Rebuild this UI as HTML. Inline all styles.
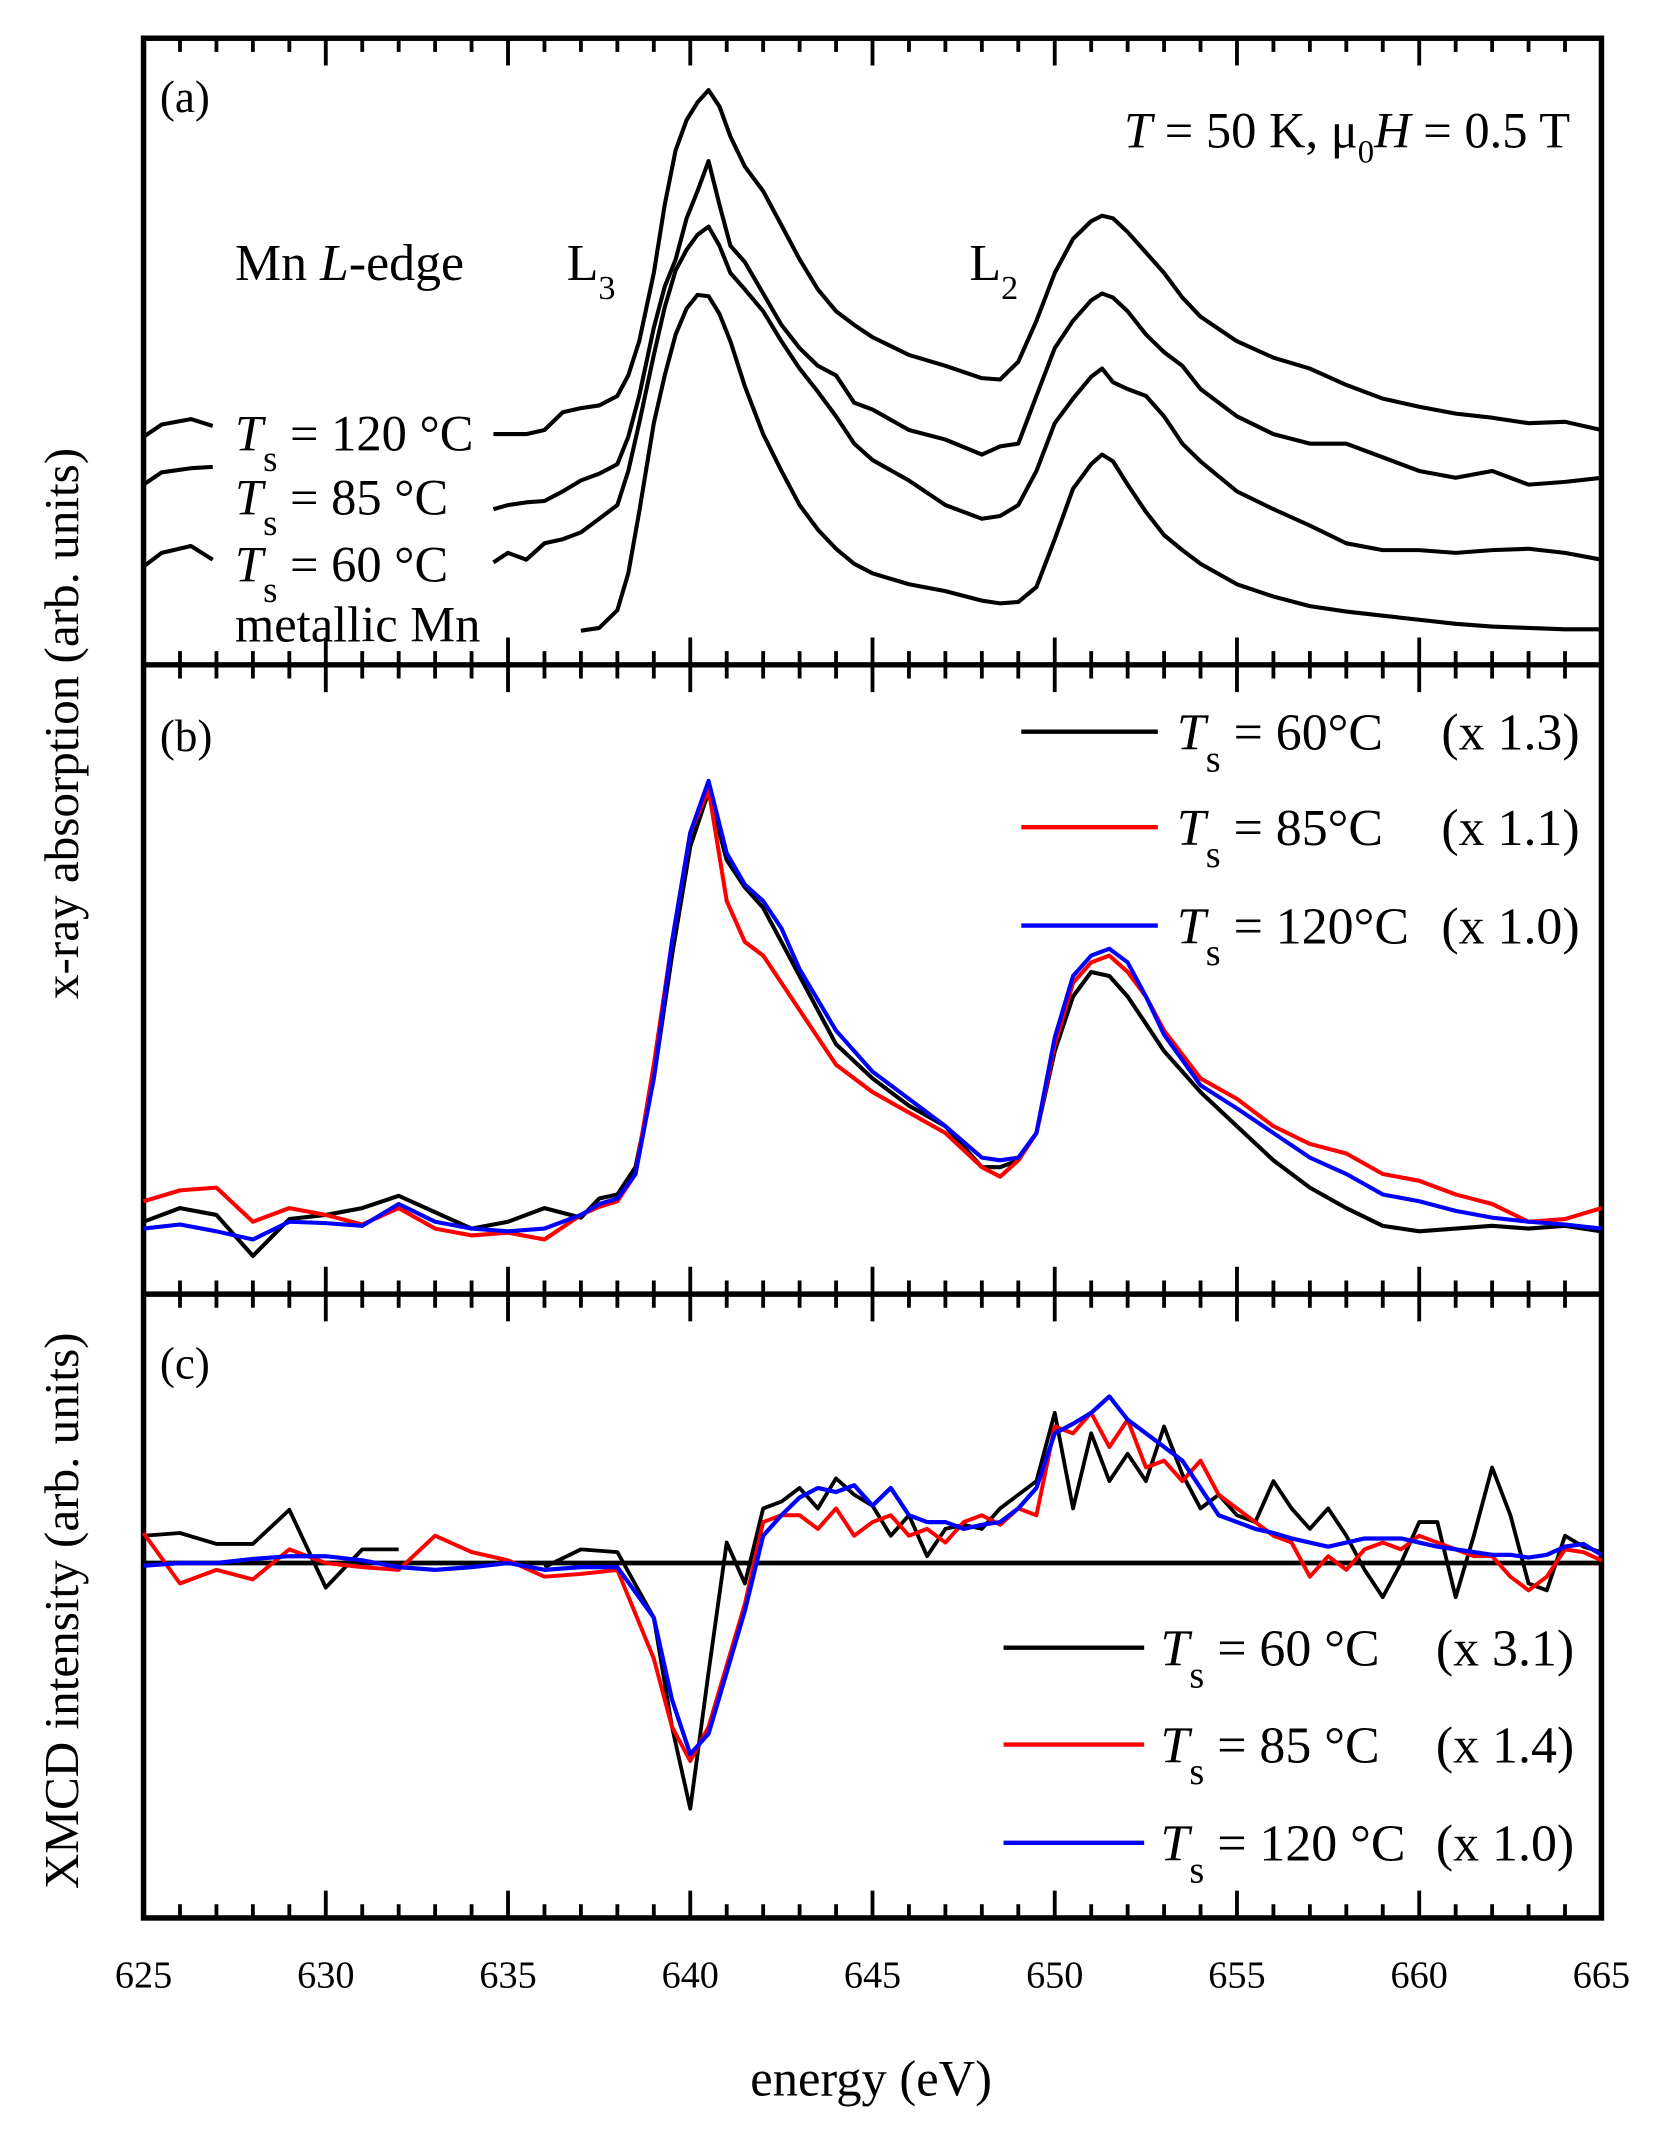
<!DOCTYPE html>
<html><head><meta charset="utf-8"><style>
html,body{margin:0;padding:0;background:#fff}
svg{display:block}
text{font-family:"Liberation Serif",serif;fill:#000}
</style></head><body>
<svg id="fig" width="1659" height="2135" viewBox="0 0 1215 1564" xmlns="http://www.w3.org/2000/svg">
<g id="frames"></g>
<g id="curves"></g>
<g id="labels">
<text x="117" y="82" font-size="33">(a)</text>
<text x="117" y="550" font-size="33">(b)</text>
<text x="117" y="1010" font-size="33">(c)</text>
<text x="1150" y="108" font-size="37" text-anchor="end"><tspan font-style="italic">T</tspan> = 50 K, μ<tspan font-size="24" dy="11">0</tspan><tspan dy="-11" font-style="italic">H</tspan> = 0.5 T</text>
<text x="172" y="205" font-size="38">Mn <tspan font-style="italic">L</tspan>-edge</text>
<text x="415" y="205" font-size="38">L<tspan font-size="25" dy="14">3</tspan></text>
<text x="710" y="205" font-size="38">L<tspan font-size="25" dy="14">2</tspan></text>
<text x="172" y="330" font-size="37"><tspan font-style="italic">T</tspan><tspan font-size="27" dy="15">s</tspan><tspan dy="-15"> = 120 °C</tspan></text>
<text x="172" y="377" font-size="37"><tspan font-style="italic">T</tspan><tspan font-size="27" dy="15">s</tspan><tspan dy="-15"> = 85 °C</tspan></text>
<text x="172" y="426" font-size="37"><tspan font-style="italic">T</tspan><tspan font-size="27" dy="15">s</tspan><tspan dy="-15"> = 60 °C</tspan></text>
<text x="172" y="470" font-size="37">metallic Mn</text>
<text transform="translate(57,530) rotate(-90)" font-size="36" text-anchor="middle">x-ray absorption (arb. units)</text>
<text transform="translate(57,1180) rotate(-90)" font-size="36" text-anchor="middle">XMCD intensity (arb. units)</text>
<text x="638" y="1535" font-size="37" text-anchor="middle">energy (eV)</text>
</g>
<g id="legendB"></g>
<g id="legendC"></g>
</svg>
<script>
// ---------- data ----------
const energyA = [625,625.5,626.3,626.9,630,634.6,635,635.5,636,636.5,637,637.5,638,638.3,638.6,639,639.3,639.6,639.9,640.2,640.5,640.8,641.1,641.5,642,642.5,643,643.5,644,644.5,645,646,647,648,648.5,649,649.5,650,650.5,651,651.3,651.6,652,652.5,653,653.5,654,655,656,657,658,659,660,661,662,663,664,665];
const xasA120 = [167,176,180,175,null,169,169,169,172,185,188,190,197,212,237,287,337,377,399,412,421,409,387,365,347,322,297,275,259,249,240,227,219,210,209,222,252,287,312,325,329,327,317,302,287,269,255,237,225,217,205,195,189,184,181,177,178,172];
const xasA85 = [132,141,144,145,null,114,117,119,120,127,135,140,147,167,197,247,277,297,327,347,369,337,307,295,272,249,232,219,212,192,187,172,165,154,160,162,197,232,252,267,272,269,259,242,229,219,202,182,169,162,162,152,142,137,142,132,134,137];
const xasA60 = [72,82,87,77,null,75,82,77,89,92,97,107,117,142,177,227,262,289,304,315,321,307,287,275,259,237,217,200,182,162,150,135,117,107,109,117,142,177,195,211,217,207,202,197,182,162,149,127,114,102,89,84,84,82,84,85,82,77];
const xasAMetal = [null,null,null,null,null,null,null,null,null,null,25,27,40,67,112,177,212,242,261,271,270,257,237,204,169,142,117,99,85,74,67,59,54,47,45,46,57,92,129,147,154,149,132,112,95,84,74,59,50,43,39,36,33,30,28,27,26,26];

const energyB = [625,626,627,628,629,630,631,632,633,634,635,636,637,637.5,638,638.5,639,639.5,640,640.5,641,641.5,642,642.5,643,644,645,646,647,648,648.5,649,649.5,650,650.5,651,651.5,652,652.5,653,654,655,656,657,658,659,660,661,662,663,664,665];
const xasB60 = [53,63,58,28,55,58,63,72,60,48,53,63,56,70,73,93,158,248,328,368,318,298,283,258,233,183,158,138,123,93,93,98,118,178,218,236,233,218,198,178,148,123,98,78,63,50,46,48,50,48,50,46];
const xasB85 = [68,76,78,53,63,58,51,63,48,43,45,40,58,64,68,88,168,258,338,370,288,258,248,228,208,168,148,133,118,93,86,98,118,183,228,243,248,236,218,193,158,143,123,110,103,88,83,73,66,53,55,63];
const xasB120 = [48,51,46,40,53,52,50,66,53,48,46,48,58,66,70,88,158,258,338,376,323,300,288,268,238,193,163,143,123,100,98,100,118,188,233,248,253,243,218,190,153,136,118,100,88,73,68,61,56,53,51,48];

const energyC = [625,626,627,628,629,630,631,632,633,634,635,636,637,638,639,639.5,640,640.5,641,641.5,642,642.5,643,643.5,644,644.5,645,645.5,646,646.5,647,647.5,648,648.5,649,649.5,650,650.5,651,651.5,652,652.5,653,653.5,654,654.5,655,655.5,656,656.5,657,657.5,658,658.5,659,659.5,660,660.5,661,661.5,662,662.5,663,663.5,664,664.5,665];
const xmcd60 = [20,22,14,14,39,-18,10,10,null,null,null,-3,10,8,-40,-120,-180,-80,15,-15,40,45,55,40,62,50,42,20,35,5,25,28,25,40,50,60,110,40,95,60,80,60,100,65,40,50,35,30,60,40,25,40,20,-5,-25,0,30,30,-25,20,70,35,-15,-20,20,12,8];
const xmcd85 = [22,-15,-5,-12,10,0,-3,-5,20,8,2,-10,-8,-5,-70,-120,-145,-120,-75,-30,30,35,35,25,40,20,30,35,20,25,15,30,35,28,40,35,100,95,110,85,105,70,75,60,75,50,40,30,20,15,-10,5,-5,10,15,10,20,15,10,5,5,-10,-20,-10,10,8,2];
const xmcd120 = [-2,0,0,3,5,5,2,-3,-5,-3,0,-5,-3,-3,-40,-100,-140,-125,-80,-35,20,35,48,55,52,57,42,55,35,30,30,25,28,30,40,55,95,102,110,122,105,95,85,75,55,35,30,25,22,18,15,12,15,18,18,18,15,12,10,8,6,6,4,6,12,14,6];

const xTickLabels = ["625","630","635","640","645","650","655","660","665"];

// ---------- axes ----------
const X0=105, X1=1173, Emin=625, Emax=665;
const xs = e => X0 + (e-Emin)*(X1-X0)/(Emax-Emin);
const yA = v => 487 - v;
const yB = v => 948 - v;
const yC = v => 1145 - v;
const NS="http://www.w3.org/2000/svg";
function mk(tag, parent){const el=document.createElementNS(NS,tag);parent.appendChild(el);return el;}

const frames=document.getElementById('frames');
const fr=mk('rect',frames);


fr.setAttribute('x',X0);fr.setAttribute('y',28);fr.setAttribute('width',X1-X0);fr.setAttribute('height',1377);
fr.setAttribute('fill','none');fr.setAttribute('stroke','#000');fr.setAttribute('stroke-width','4');
[487,948].forEach((y,i)=>{
  const l=mk('line',frames);
  
  
  l.setAttribute('x1',X0);l.setAttribute('x2',X1);l.setAttribute('y1',y);l.setAttribute('y2',y);
  l.setAttribute('stroke','#000');l.setAttribute('stroke-width','4');
});
const zl=mk('line',frames);


zl.setAttribute('x1',X0);zl.setAttribute('x2',X1);zl.setAttribute('y1',yC(0));zl.setAttribute('y2',yC(0));
zl.setAttribute('stroke','#000');zl.setAttribute('stroke-width','3.5');

const tickRows=[[28,1],[487,-1],[487,1],[948,-1],[948,1],[1405,-1]];
let td='';
for(let e=626;e<665;e++){
  const major=(e%5===0);const L=major?20:10;const x=xs(e);
  tickRows.forEach(([y,d])=>{td+=`M${x},${y}V${y+d*L}`;});
}
const tk=mk('path',frames);


tk.setAttribute('d',td);tk.setAttribute('stroke','#000');tk.setAttribute('stroke-width','2.8');
xTickLabels.forEach(s=>{
  const t=mk('text',frames);
  
  
  t.setAttribute('x',xs(+s));t.setAttribute('y',1456);t.setAttribute('font-size','28');t.setAttribute('text-anchor','middle');
  t.textContent=s;
});

const curves=document.getElementById('curves');
function drawCurve(E,V,ys,color,name,w){
  let d='',pen=false;
  for(let i=0;i<E.length;i++){
    if(V[i]===null){pen=false;continue;}
    d+=(pen?'L':'M')+xs(E[i]).toFixed(1)+','+ys(V[i]).toFixed(1);pen=true;
  }
  const p=mk('path',curves);
  
  
  p.setAttribute('d',d);p.setAttribute('fill','none');p.setAttribute('stroke',color);
  p.setAttribute('stroke-width',w||3);p.setAttribute('stroke-linejoin','round');
}
drawCurve(energyA,xasA120,yA,'#000','xas-a-ts120');
drawCurve(energyA,xasA85,yA,'#000','xas-a-ts85');
drawCurve(energyA,xasA60,yA,'#000','xas-a-ts60');
drawCurve(energyA,xasAMetal,yA,'#000','xas-a-metallic');
drawCurve(energyB,xasB60,yB,'#000','xas-b-ts60');
drawCurve(energyB,xasB85,yB,'#ff0000','xas-b-ts85');
drawCurve(energyB,xasB120,yB,'#0000ff','xas-b-ts120');
drawCurve(energyC,xmcd60,yC,'#000','xmcd-ts60',2.8);
drawCurve(energyC,xmcd85,yC,'#ff0000','xmcd-ts85',2.9);
drawCurve(energyC,xmcd120,yC,'#0000ff','xmcd-ts120',3.1);

function legend(gid,x1,x2,tx,ftx,rows){
  const g=document.getElementById(gid);
  rows.forEach(([y,color,temp,fac])=>{
    const l=mk('line',g);
    
    
    l.setAttribute('x1',x1);l.setAttribute('x2',x2);l.setAttribute('y1',y);l.setAttribute('y2',y);
    l.setAttribute('stroke',color);l.setAttribute('stroke-width','3.2');
    const t=mk('text',g);
    
    
    t.setAttribute('x',tx);t.setAttribute('y',y+13);t.setAttribute('font-size','38');
    t.innerHTML=`<tspan font-style="italic">T</tspan><tspan font-size="28" dy="16">s</tspan><tspan dy="-16"> = ${temp}</tspan>`;
    const f=mk('text',g);
    
    
    f.setAttribute('x',ftx);f.setAttribute('y',y+13);f.setAttribute('font-size','38');f.setAttribute('text-anchor','end');
    f.textContent=fac;
  });
}
legend('legendB',748,848,862,1157,[[536,'#000','60°C','(x 1.3)'],[606,'#ff0000','85°C','(x 1.1)'],[678,'#0000ff','120°C','(x 1.0)']]);
legend('legendC',735,838,850,1153,[[1207,'#000','60 °C','(x 3.1)'],[1278,'#ff0000','85 °C','(x 1.4)'],[1350,'#0000ff','120 °C','(x 1.0)']]);
</script>
</body></html>
